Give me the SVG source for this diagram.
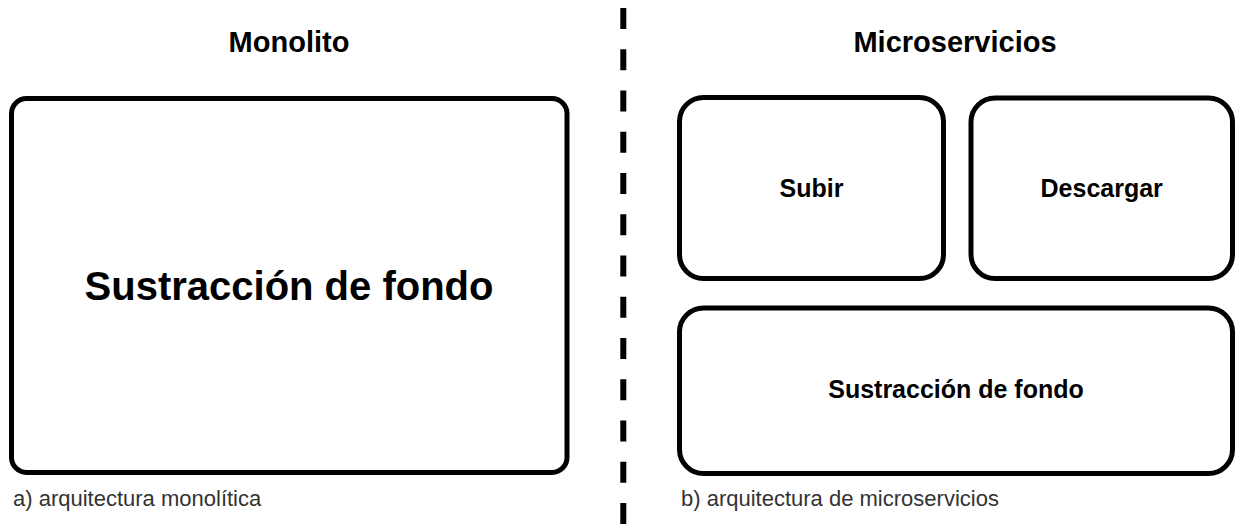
<svg xmlns="http://www.w3.org/2000/svg" width="1236" height="529" viewBox="0 0 1236 529">
<style>
.box{fill:#fff;stroke:#000;stroke-width:5}
.t{font-family:"Liberation Sans",Arial,sans-serif;fill:#000;text-anchor:middle;font-weight:bold}
.cap{font-family:"Liberation Sans",Arial,sans-serif;fill:#333;font-size:22px}
.sep{stroke:#000;stroke-width:6;stroke-dasharray:21 20.25;fill:none}
</style>
<rect width="1236" height="529" fill="#fff"/>
<g id="connectors">
<line class="sep" x1="623.3" y1="8" x2="623.3" y2="529"/>
</g>
<g id="title-monolito"><text class="t" x="289" y="52" font-size="29">Monolito</text></g>
<g id="title-micro"><text class="t" x="955" y="52" font-size="29">Microservicios</text></g>
<g id="monolito">
<rect class="box" x="11.5" y="98.5" width="555.5" height="374" rx="15"/>
<text class="t" x="289" y="300" font-size="40">Sustracción de fondo</text>
</g>
<g id="subir">
<rect class="box" x="679.5" y="97.5" width="264" height="181" rx="24"/>
<text class="t" x="811.5" y="197" font-size="25">Subir</text>
</g>
<g id="descargar">
<rect class="box" x="971" y="98" width="261.5" height="180.5" rx="24"/>
<text class="t" x="1101.7" y="197" font-size="25">Descargar</text>
</g>
<g id="sustraccion">
<rect class="box" x="679.5" y="308" width="553" height="165.5" rx="24"/>
<text class="t" x="956" y="398" font-size="25">Sustracción de fondo</text>
</g>
<g id="caption-a"><text class="cap" x="13" y="506">a) arquitectura monolítica</text></g>
<g id="caption-b"><text class="cap" x="681" y="506">b) arquitectura de microservicios</text></g>
</svg>
